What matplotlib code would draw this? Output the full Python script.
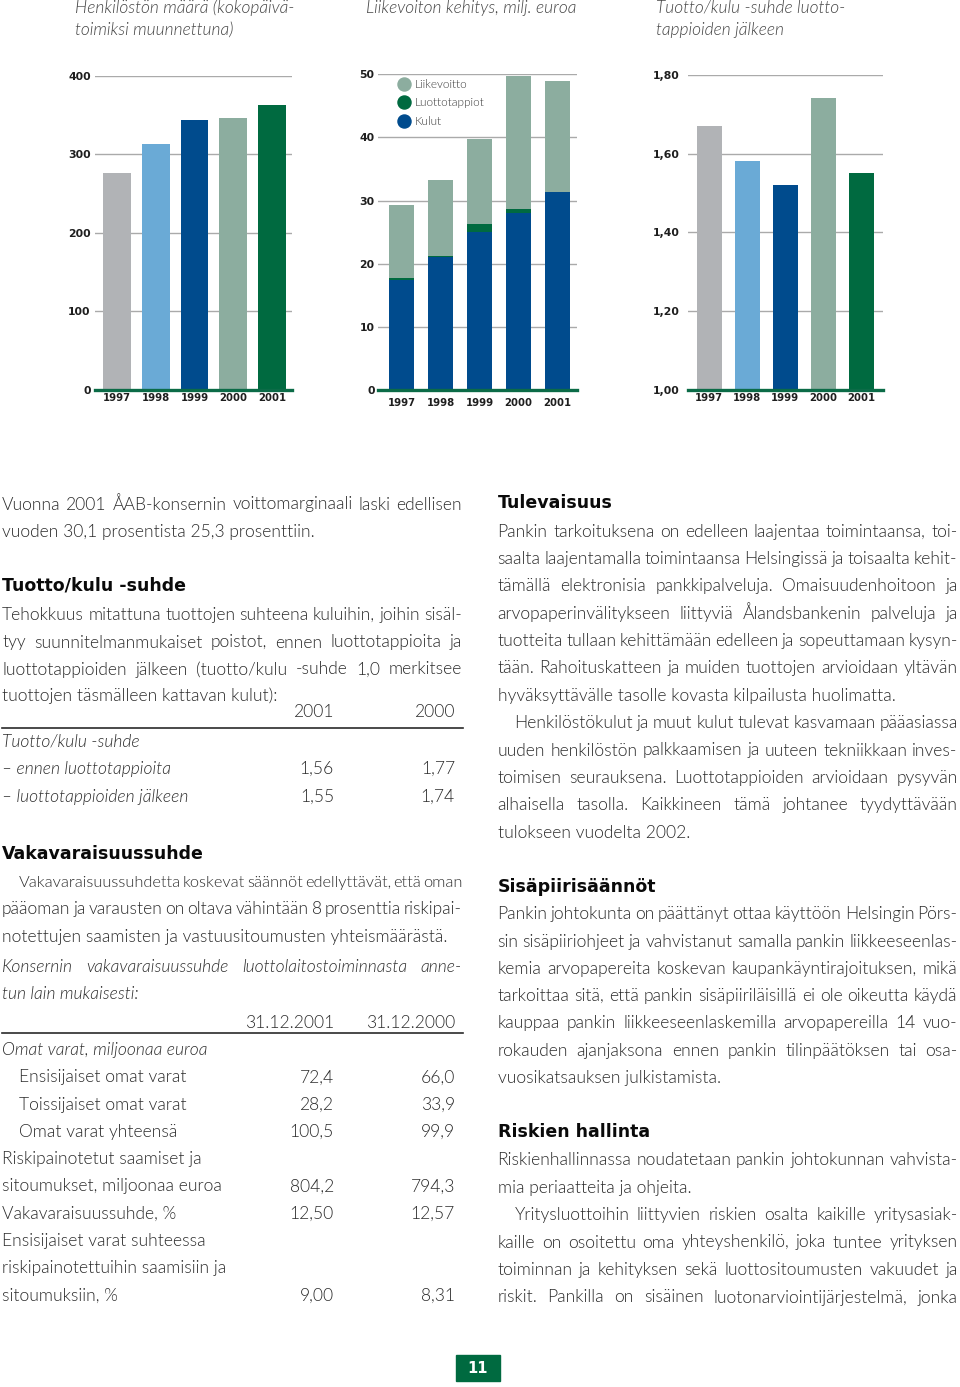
import matplotlib
matplotlib.use('Agg')
import matplotlib.pyplot as plt
from matplotlib.lines import Line2D
from matplotlib.patches import Rectangle
from matplotlib.transforms import Bbox

# ---------------- data ----------------
years = ['1997', '1998', '1999', '2000', '2001']
staff = [276, 313, 344, 346, 362]
kulut = [17.5, 21.1, 25.1, 28.1, 31.4]
luottotappiot = [0.2, 0.1, 1.2, 0.6, 0.0]
liikevoitto = [11.6, 12.1, 13.5, 21.1, 17.5]
ratio = [1.67, 1.58, 1.52, 1.74, 1.55]

staff_ticks = [0, 100, 200, 300, 400]
profit_ticks = [0, 10, 20, 30, 40, 50]
ratio_ticks = [1.00, 1.20, 1.40, 1.60, 1.80]
ratio_ticklabels = ['1,00', '1,20', '1,40', '1,60', '1,80']
legend_labels = ['Liikevoitto', 'Luottotappiot', 'Kulut']

chart_titles = [
    ['Henkilöstön määrä (kokopäivä-', 'toimiksi muunnettuna)'],
    ['Liikevoiton kehitys, milj. euroa'],
    ['Tuotto/kulu -suhde luotto-', 'tappioiden jälkeen'],
]

table1_cols = ['2001', '2000']
table1_rows = ['Tuotto/kulu -suhde', '– ennen luottotappioita', '– luottotappioiden jälkeen']
table1_2001 = ['', '1,56', '1,55']
table1_2000 = ['', '1,77', '1,74']

table2_cols = ['31.12.2001', '31.12.2000']
table2_rows = ['Omat varat, miljoonaa euroa', 'Ensisijaiset omat varat', 'Toissijaiset omat varat',
               'Omat varat yhteensä', 'Riskipainotetut saamiset ja', 'sitoumukset, miljoonaa euroa',
               'Vakavaraisuussuhde, %', 'Ensisijaiset varat suhteessa',
               'riskipainotettuihin saamisiin ja', 'sitoumuksiin, %']
table2_2001 = ['', '72,4', '28,2', '100,5', '', '804,2', '12,50', '', '', '9,00']
table2_2000 = ['', '66,0', '33,9', '99,9', '', '794,3', '12,57', '', '', '8,31']

page_number = '11'

# ---------------- styling ----------------
W, H = 960, 1387
YEAR_COLORS = ['#b1b3b6', '#6aaad6', '#004b8d', '#8cad9f', '#006a40']
C_LV, C_LT, C_K = '#8cad9f', '#006a40', '#004b8d'
GRID = '#aaaaaa'
BASE_GREEN = '#0b6b47'
TXT = '#2c2c2c'
HEAD = '#0a0a0a'
FONT = 'Lato'
LW = 300          # Lato Light
HFONT = 'DejaVu Sans'

fig = plt.figure(figsize=(9.6, 13.87), dpi=100)
fig.patch.set_facecolor('white')
page = fig.add_axes([0, 0, 1, 1], zorder=0)
page.set_xlim(0, W)
page.set_ylim(H, 0)
page.axis('off')
renderer = fig.canvas.get_renderer()


def tw(s, size, style='normal', weight=LW, family=FONT):
    t = page.text(0, 0, s, fontsize=size, fontstyle=style, fontweight=weight, family=family)
    w = t.get_window_extent(renderer).width
    t.remove()
    return w


def calib(samples, style='normal', weight=LW, family=FONT):
    tot_w = sum(tw(s, 10, style, weight, family) for s, _ in samples)
    tot_t = sum(t for _, t in samples)
    return 10 * tot_t / tot_w


BS = calib([('hyväksyttävälle tasolle kovasta kilpailusta huolimatta.', 397),
            ('tuottojen täsmälleen kattavan kulut):', 275),
            ('tulokseen vuodelta 2002.', 193)])
TS = calib([('Liikevoiton kehitys, milj. euroa', 210)], style='italic')
HS = calib([('Vakavaraisuussuhde', 198), ('Sisäpiirisäännöt', 160), ('Riskien hallinta', 154)],
           weight='bold', family=HFONT)


def put(s, x0, y, x1=None, size=None, style='normal', weight=LW, family=FONT,
        color=TXT, ha='left'):
    size = size or BS
    kw = dict(fontstyle=style, fontweight=weight, family=family, color=color, va='baseline')
    if x1 is None:
        page.text(x0, y, s, fontsize=size, ha=ha, **kw)
        return
    words = s.split()
    widths = [tw(w, size, style, weight, family) for w in words]
    n = len(words)
    gap = (x1 - x0 - sum(widths)) / (n - 1)
    min_gap = 0.11 * size * 100 / 72
    if gap < min_gap:
        scale = (x1 - x0 - min_gap * (n - 1)) / sum(widths)
        size = size * scale
        widths = [tw(w, size, style, weight, family) for w in words]
        gap = (x1 - x0 - sum(widths)) / (n - 1)
    x = x0
    for w, wd in zip(words, widths):
        page.text(x, y, w, fontsize=size, ha='left', **kw)
        x += wd + gap


def heading(s, x0, y):
    page.text(x0, y, s, fontsize=HS, fontweight='bold', family=HFONT, color=HEAD,
              va='baseline', ha='left')


# ---------------- charts ----------------
def make_chart(x0, x1, y_top, y_base, xlim, ylim, ticks, ticklabels, ypad, xpad, clip_years):
    ax = fig.add_axes([x0 / W, 1 - y_base / H, (x1 - x0) / W, (y_base - y_top) / H], zorder=2)
    ax.set_xlim(*xlim)
    ax.set_ylim(*ylim)
    ax.patch.set_visible(False)
    for sp in ax.spines.values():
        sp.set_visible(False)
    ax.set_yticks(ticks)
    ax.set_yticklabels(ticklabels, fontweight='bold', fontsize=7.8, color='#1e1e1e',
                       family='DejaVu Sans')
    ax.tick_params(axis='y', length=0, pad=ypad)
    ax.yaxis.grid(True, color=GRID, lw=1.0)
    ax.set_axisbelow(True)
    ax.axhline(ylim[0], color=BASE_GREEN, lw=2.4, zorder=4, clip_on=False)
    ax.set_xticks(range(len(years)))
    ax.set_xticklabels(years, fontweight='bold', fontsize=7.3, color='#1e1e1e',
                       family='DejaVu Sans')
    ax.tick_params(axis='x', length=0, pad=xpad)
    if clip_years:
        cb = Bbox([[x0 - 5, H - 401.5], [x1 + 5, H]])
        for lbl in ax.get_xticklabels():
            lbl.set_clip_on(True)
            lbl.set_clip_box(cb)
    return ax


x = list(range(len(years)))

# chart 1: staff
ax1 = make_chart(95, 292, 75.5, 390, (-0.568, 4.516), (0, 400), staff_ticks,
                 [str(t) for t in staff_ticks], 3.1, 2.2, True)
ax1.bar(x, staff, width=0.72, color=YEAR_COLORS, zorder=3)

# chart 2: operating profit stacked
ax2 = make_chart(378, 577, 74.3, 390, (-0.603, 4.506), (0, 50), profit_ticks,
                 [str(t) for t in profit_ticks], 2.4, 5.4, False)
ax2.bar(x, kulut, width=0.65, color=C_K, zorder=3)
ax2.bar(x, luottotappiot, width=0.65, bottom=kulut, color=C_LT, zorder=3)
bot3 = [a + b for a, b in zip(kulut, luottotappiot)]
ax2.bar(x, liikevoitto, width=0.65, bottom=bot3, color=C_LV, zorder=3)
handles = [Line2D([], [], ls='none', marker='o', markersize=9.4, color=c)
           for c in [C_LV, C_LT, C_K]]
ax2.legend(handles, legend_labels, loc='upper left',
           bbox_to_anchor=(397.5 / W, 1 - 79 / H), bbox_transform=fig.transFigure,
           frameon=False, borderpad=0, borderaxespad=0, handlelength=1.1,
           handletextpad=0.38, labelspacing=0.62,
           prop=dict(family=FONT, weight=LW, size=8.5), labelcolor='#3a3a3a')

# chart 3: income/cost ratio
ax3 = make_chart(688, 883, 74.7, 390, (-0.557, 4.571), (1.0, 1.8), ratio_ticks,
                 ratio_ticklabels, 5.8, 2.2, True)
ax3.bar(x, [r - 1.0 for r in ratio], width=0.66, bottom=1.0, color=YEAR_COLORS, zorder=3)

# chart titles
for (tx, lines) in zip([75, 366, 656], chart_titles):
    for k, ln in enumerate(lines):
        put(ln, tx, 12.5 + 22 * k, size=TS, style='italic', color='#454545')

# ---------------- left column ----------------
LX0, LX1 = 2, 462
RX0, RX1 = 497.5, 957.5
IND = 17

put('Vuonna 2001 ÅAB-konsernin voittomarginaali laski edellisen', LX0, 509.5, LX1)
put('vuoden 30,1 prosentista 25,3 prosenttiin.', LX0, 536.5)
heading('Tuotto/kulu -suhde', LX0, 590)
put('Tehokkuus mitattuna tuottojen suhteena kuluihin, joihin sisäl-', LX0, 620, LX1)
put('tyy suunnitelmanmukaiset poistot, ennen luottotappioita ja', LX0, 647.5, LX1)
put('luottotappioiden jälkeen (tuotto/kulu -suhde 1,0 merkitsee', LX0, 674.5, LX1)
put('tuottojen täsmälleen kattavan kulut):', LX0, 701)

put(table1_cols[0], 334, 717, ha='right')
put(table1_cols[1], 455, 717, ha='right')
page.plot([LX0, LX1 + 1], [727.5, 727.5], color='#2a2a2a', lw=1.2)
for k, (lab, v1, v2) in enumerate(zip(table1_rows, table1_2001, table1_2000)):
    yy = 746.5 + 27.6 * k
    put(lab, LX0, yy, style='italic')
    if v1:
        put(v1, 334, yy, ha='right')
        put(v2, 455, yy, ha='right')

heading('Vakavaraisuussuhde', LX0, 859)
put('Vakavaraisuussuhdetta koskevat säännöt edellyttävät, että oman', LX0 + IND, 886.7, LX1)
put('pääoman ja varausten on oltava vähintään 8 prosenttia riskipai-', LX0, 914, LX1)
put('notettujen saamisten ja vastuusitoumusten yhteismäärästä.', LX0, 941.7)
put('Konsernin vakavaraisuussuhde luottolaitostoiminnasta anne-', LX0, 971.7, LX1, style='italic')
put('tun lain mukaisesti:', LX0, 999.3, style='italic')

put(table2_cols[0], 334, 1028.3, ha='right')
put(table2_cols[1], 455, 1028.3, ha='right')
page.plot([LX0, LX1 + 1], [1033, 1033], color='#2a2a2a', lw=1.2)
indented = {1, 2, 3}
for k, (lab, v1, v2) in enumerate(zip(table2_rows, table2_2001, table2_2000)):
    yy = 1055 + 27.3 * k
    put(lab, LX0 + (IND if k in indented else 0), yy, style='italic' if k == 0 else 'normal')
    if v1:
        put(v1, 334, yy, ha='right')
        put(v2, 455, yy, ha='right')

# ---------------- right column ----------------
heading('Tulevaisuus', RX0, 508.3)
right_par1 = [
    ('Pankin tarkoituksena on edelleen laajentaa toimintaansa, toi-', 'J', 0),
    ('saalta laajentamalla toimintaansa Helsingissä ja toisaalta kehit-', 'J', 0),
    ('tämällä elektronisia pankkipalveluja. Omaisuudenhoitoon ja', 'J', 0),
    ('arvopaperinvälitykseen liittyviä Ålandsbankenin palveluja ja', 'J', 0),
    ('tuotteita tullaan kehittämään edelleen ja sopeuttamaan kysyn-', 'J', 0),
    ('tään. Rahoituskatteen ja muiden tuottojen arvioidaan yltävän', 'J', 0),
    ('hyväksyttävälle tasolle kovasta kilpailusta huolimatta.', 'L', 0),
    ('Henkilöstökulut ja muut kulut tulevat kasvamaan pääasiassa', 'J', IND),
    ('uuden henkilöstön palkkaamisen ja uuteen tekniikkaan inves-', 'J', 0),
    ('toimisen seurauksena.  Luottotappioiden arvioidaan pysyvän', 'J', 0),
    ('alhaisella tasolla. Kaikkineen tämä johtanee tyydyttävään', 'J', 0),
    ('tulokseen vuodelta 2002.', 'L', 0),
]
for k, (ln, mode, ind) in enumerate(right_par1):
    put(ln, RX0 + ind, 536.7 + 27.35 * k, RX1 if mode == 'J' else None)

heading('Sisäpiirisäännöt', RX0, 891.7)
right_par2 = [
    ('Pankin johtokunta on päättänyt ottaa käyttöön Helsingin Pörs-', 'J'),
    ('sin sisäpiiriohjeet ja vahvistanut samalla pankin liikkeeseenlas-', 'J'),
    ('kemia arvopapereita koskevan kaupankäyntirajoituksen, mikä', 'J'),
    ('tarkoittaa sitä, että pankin sisäpiiriläisillä ei ole oikeutta käydä', 'J'),
    ('kauppaa pankin liikkeeseenlaskemilla arvopapereilla 14 vuo-', 'J'),
    ('rokauden ajanjaksona ennen pankin tilinpäätöksen tai osa-', 'J'),
    ('vuosikatsauksen julkistamista.', 'L'),
]
for k, (ln, mode) in enumerate(right_par2):
    put(ln, RX0, 919.3 + 27.25 * k, RX1 if mode == 'J' else None)

heading('Riskien hallinta', RX0, 1137.3)
right_par3 = [
    ('Riskienhallinnassa noudatetaan pankin johtokunnan vahvista-', 'J', 0),
    ('mia periaatteita ja ohjeita.', 'L', 0),
    ('Yritysluottoihin liittyvien riskien osalta kaikille yritysasiak-', 'J', IND),
    ('kaille on osoitettu oma yhteyshenkilö, joka tuntee yrityksen', 'J', 0),
    ('toiminnan ja kehityksen sekä luottositoumusten vakuudet ja', 'J', 0),
    ('riskit. Pankilla on sisäinen luotonarviointijärjestelmä, jonka', 'J', 0),
]
for k, (ln, mode, ind) in enumerate(right_par3):
    put(ln, RX0 + ind, 1165 + 27.5 * k, RX1 if mode == 'J' else None)

# ---------------- page number ----------------
page.add_patch(Rectangle((456, 1355), 44, 26, color='#006a40', zorder=1))
page.text(478, 1368.5, page_number, ha='center', va='center', color='white',
          fontsize=10.5, fontweight='bold', family='DejaVu Sans')

fig.savefig('out.png', dpi=100, facecolor='white')
